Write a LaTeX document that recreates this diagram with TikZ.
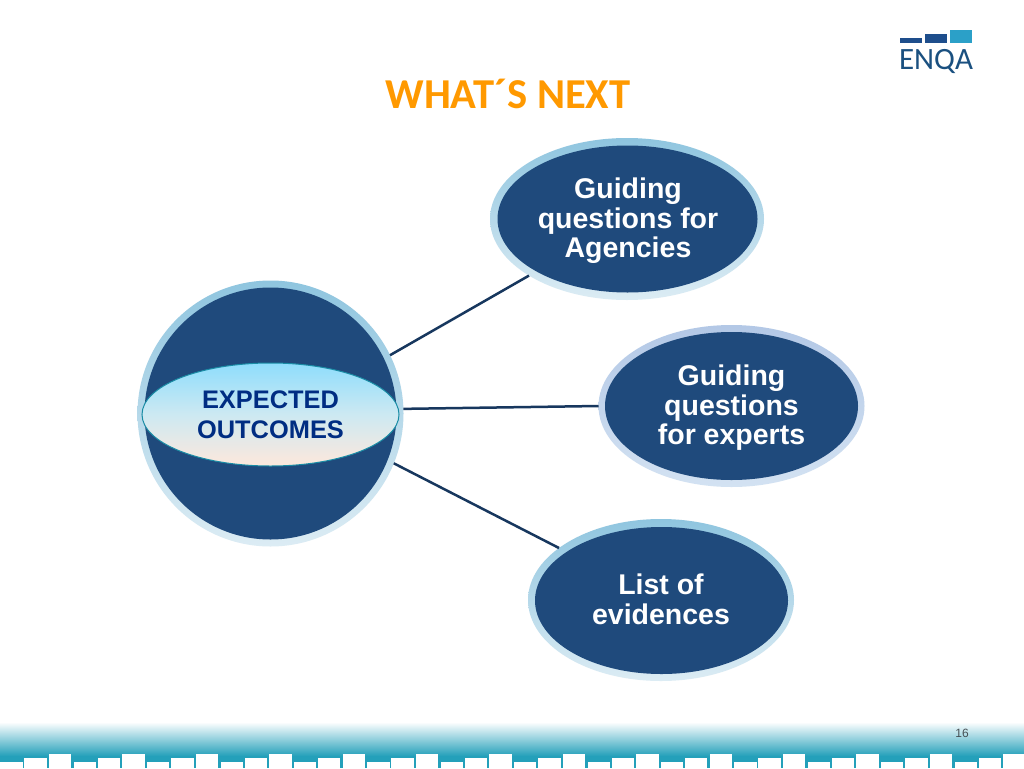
\documentclass[tikz,border=0pt]{standalone}
\usepackage{fontspec}
\setmainfont{Liberation Sans}
\newfontfamily\carlito{Carlito}
\usetikzlibrary{shapes.geometric}
\definecolor{navy}{HTML}{1F4A7C}
\definecolor{linkc}{HTML}{17375E}
\definecolor{rimtop}{HTML}{8FC5DF}
\definecolor{rimbot}{HTML}{DCECF4}
\definecolor{rimtopb}{HTML}{B3C8E6}
\definecolor{rimbotb}{HTML}{D3E2F2}
\definecolor{teal}{HTML}{24A0BA}
\definecolor{lenstop}{HTML}{8EDDFC}
\definecolor{lensmid}{HTML}{CDE9F2}
\definecolor{lensbot}{HTML}{FDE8DC}
\tikzset{
  x=1pt,y=-1pt,
  rim/.style={ellipse,inner sep=0pt,outer sep=0pt,top color=rimtop,bottom color=rimbot,draw=none},
  core/.style={ellipse,inner sep=0pt,outer sep=0pt,fill=navy,text=white,align=center,font=\bfseries\fontsize{28.5}{29.6}\selectfont},
  lens/.style={ellipse,inner sep=0pt,outer sep=0pt,draw={rgb,255:red,25;green,140;blue,165},line width=1pt,top color=lenstop,bottom color=lensbot,middle color=lensmid,text={rgb,255:red,0;green,45;blue,130},align=center,font=\bfseries\fontsize{25.4}{30}\selectfont},
  link/.style={draw=linkc,line width=2.5pt},
  barw/.style={fill=white,draw=none},
}
\begin{document}
\begin{tikzpicture}
\useasboundingbox (0,0) rectangle (1024,768);
\fill[white] (0,0) rectangle (1024,768);
% footer band
\shade[top color=white,bottom color=teal] (0,722) rectangle (1024,756);
\fill[teal] (0,756) rectangle (1024,768);
\foreach \k in {0,...,13}{
  \fill[barw] ({0.3+73.4*\k},762) rectangle ({22.5+73.4*\k},768);
  \fill[barw] ({24.3+73.4*\k},758) rectangle ({46.8+73.4*\k},768);
  \fill[barw] ({49+73.4*\k},754) rectangle ({71.3+73.4*\k},768);
}
\node[text={rgb,255:red,70;green,80;blue,85},font=\fontsize{12}{14}\selectfont] (pg) at (962,733) {16};
% logo
\fill[fill={rgb,255:red,30;green,78;blue,140}] (900,38) rectangle (922,43.5);
\fill[fill={rgb,255:red,30;green,78;blue,140}] (925,34) rectangle (947,43.5);
\fill[fill={rgb,255:red,43;green,160;blue,200}] (950,30) rectangle (972,43.5);
\node[text={rgb,255:red,26;green,80;blue,128},font=\carlito\fontsize{31}{31}\selectfont,inner sep=0pt,anchor=base] (logo) at (936,70) {ENQA};
% title
\node[text={rgb,255:red,255;green,153;blue,0},font=\carlito\bfseries\fontsize{42.6}{42.6}\selectfont,inner sep=0pt] (title) at (508,94) {WHAT´S NEXT};
% outcome circle
\node[rim,minimum width=266pt,minimum height=266pt] (hub) at (270.5,413.5) {};
\node[ellipse,inner sep=0pt,fill=navy,minimum width=252pt,minimum height=252pt] (hubcore) at (270.5,413.5) {};
\node[lens,minimum width=257pt,minimum height=103pt] (lens) at (270.5,414.5) {EXPECTED\\OUTCOMES};
% satellites
\node[rim,minimum width=274pt,minimum height=162pt] (qa) at (627,219) {};
\node[core,minimum width=260pt,minimum height=147pt] (qacore) at (627.5,219) {};
\node[font=\bfseries\fontsize{28.5}{29.6}\selectfont,text=white,align=center,inner sep=0pt] (qatext) at (628,221) {Guiding\\questions for\\Agencies};
\node[rim,top color=rimtopb,bottom color=rimbotb,minimum width=266pt,minimum height=162pt] (qe) at (731.5,406) {};
\node[core,minimum width=253pt,minimum height=148pt] (qecore) at (731.5,406) {};
\node[font=\bfseries\fontsize{28.5}{29.6}\selectfont,text=white,align=center,inner sep=0pt] (qetext) at (731.5,408) {Guiding\\questions\\for experts};
\node[rim,minimum width=266pt,minimum height=162pt] (ev) at (661,600) {};
\node[core,minimum width=253pt,minimum height=147pt] (evcore) at (661.5,600.5) {};
\node[font=\bfseries\fontsize{28.5}{29.6}\selectfont,text=white,align=center,inner sep=0pt] (evtext) at (661,599.5) {List of\\evidences};
% connectors
\draw[link] (hub.26) -- (qa.210);
\draw[link] (hub.2) -- (qe.180.6);
\draw[link] (hub.-22) -- (ev.153);
\end{tikzpicture}
\end{document}
